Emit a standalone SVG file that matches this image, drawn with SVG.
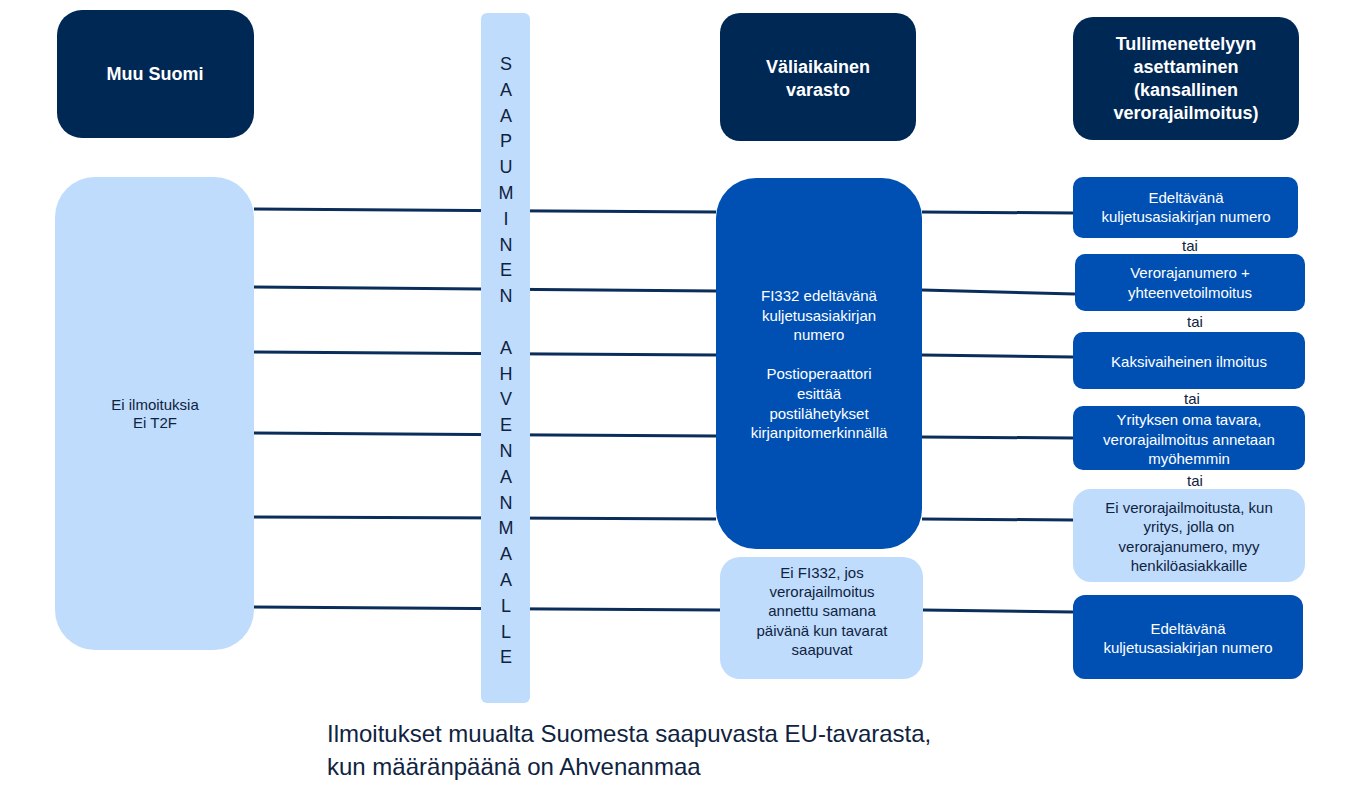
<svg xmlns="http://www.w3.org/2000/svg" width="1345" height="787" viewBox="0 0 1345 787">
<style>
text{font-family:"Liberation Sans",Arial,sans-serif}
.dk{fill:#002855}.bl{fill:#0050b4}.lt{fill:#bfdcfd}
.h{fill:#fff;font-size:18px;font-weight:bold;text-anchor:middle}
.w{fill:#fff;font-size:15px;text-anchor:middle}
.n{fill:#0f2340;font-size:15px;text-anchor:middle}
.v{fill:#0f2340;font-size:18px;text-anchor:middle}
.c line{stroke:#0b2d5a;stroke-width:3}
</style>
<rect width="1345" height="787" fill="#fff"/>
<g class="c" id="connectors">
<line x1="254" y1="209" x2="716" y2="212"/>
<line x1="254" y1="287" x2="716" y2="291"/>
<line x1="254" y1="352" x2="716" y2="355"/>
<line x1="254" y1="433" x2="716" y2="436"/>
<line x1="254" y1="517" x2="716" y2="519"/>
<line x1="254" y1="607" x2="720" y2="610"/>
<line x1="922" y1="212" x2="1073" y2="213"/>
<line x1="922" y1="290" x2="1075" y2="294"/>
<line x1="922" y1="355" x2="1073" y2="357"/>
<line x1="922" y1="437" x2="1073" y2="438"/>
<line x1="922" y1="519" x2="1073" y2="520"/>
<line x1="923" y1="610" x2="1073" y2="612"/>
</g>
<g id="muu"><rect class="dk" x="57" y="10" width="197" height="128" rx="25"/><text class="h" x="155" y="80">Muu Suomi</text></g>
<g id="left"><rect class="lt" x="55" y="177" width="199" height="473" rx="40"/><text class="n" x="155" y="410">Ei ilmoituksia</text><text class="n" x="155" y="428">Ei T2F</text></g>
<g id="bar"><rect class="lt" x="481" y="13" width="49" height="690" rx="6"/>
<text class="v"><tspan x="506" y="70">S</tspan><tspan x="506" y="96">A</tspan><tspan x="506" y="122">A</tspan><tspan x="506" y="147">P</tspan><tspan x="506" y="173">U</tspan><tspan x="506" y="199">M</tspan><tspan x="506" y="225">I</tspan><tspan x="506" y="251">N</tspan><tspan x="506" y="276">E</tspan><tspan x="506" y="302">N</tspan><tspan x="506" y="354">A</tspan><tspan x="506" y="380">H</tspan><tspan x="506" y="405">V</tspan><tspan x="506" y="431">E</tspan><tspan x="506" y="457">N</tspan><tspan x="506" y="483">A</tspan><tspan x="506" y="509">N</tspan><tspan x="506" y="534">M</tspan><tspan x="506" y="560">A</tspan><tspan x="506" y="586">A</tspan><tspan x="506" y="612">L</tspan><tspan x="506" y="638">L</tspan><tspan x="506" y="663">E</tspan></text></g>
<g id="vali"><rect class="dk" x="720" y="13" width="196" height="128" rx="20"/><text class="h" x="818" y="73">Väliaikainen</text><text class="h" x="818" y="96">varasto</text></g>
<g id="tulli"><rect class="dk" x="1073" y="17" width="226" height="123" rx="20"/><text class="h"><tspan x="1186" y="50">Tullimenettelyyn</tspan><tspan x="1186" y="73">asettaminen</tspan><tspan x="1186" y="96">(kansallinen</tspan><tspan x="1186" y="119">verorajailmoitus)</tspan></text></g>
<g id="fi332"><rect class="bl" x="716" y="178" width="206" height="371" rx="40"/><text class="w"><tspan x="819" y="301">FI332 edeltävänä</tspan><tspan x="819" y="321">kuljetusasiakirjan</tspan><tspan x="819" y="340">numero</tspan><tspan x="819" y="379">Postioperaattori</tspan><tspan x="819" y="399">esittää</tspan><tspan x="819" y="419">postilähetykset</tspan><tspan x="819" y="438">kirjanpitomerkinnällä</tspan></text></g>
<g id="eifi"><rect class="lt" x="720" y="557" width="203" height="122" rx="20"/><text class="n"><tspan x="822" y="578">Ei FI332, jos</tspan><tspan x="822" y="597">verorajailmoitus</tspan><tspan x="822" y="616">annettu samana</tspan><tspan x="822" y="636">päivänä kun tavarat</tspan><tspan x="822" y="655">saapuvat</tspan></text></g>
<g id="r1"><rect class="bl" x="1073" y="177" width="225" height="61" rx="10"/><text class="w"><tspan x="1186" y="203">Edeltävänä</tspan><tspan x="1186" y="222">kuljetusasiakirjan numero</tspan></text></g>
<g id="r2"><rect class="bl" x="1075" y="254" width="230" height="57" rx="10"/><text class="w"><tspan x="1190" y="278">Verorajanumero +</tspan><tspan x="1190" y="298">yhteenvetoilmoitus</tspan></text></g>
<g id="r3"><rect class="bl" x="1073" y="332" width="232" height="57" rx="10"/><text class="w" x="1189" y="367">Kaksivaiheinen ilmoitus</text></g>
<g id="r4"><rect class="bl" x="1073" y="406" width="232" height="64" rx="10"/><text class="w"><tspan x="1189" y="425">Yrityksen oma tavara,</tspan><tspan x="1189" y="445">verorajailmoitus annetaan</tspan><tspan x="1189" y="464">myöhemmin</tspan></text></g>
<g id="r5"><rect class="lt" x="1073" y="489" width="232" height="93" rx="18"/><text class="n"><tspan x="1189" y="513">Ei verorajailmoitusta, kun</tspan><tspan x="1189" y="532">yritys, jolla on</tspan><tspan x="1189" y="552">verorajanumero, myy</tspan><tspan x="1189" y="571">henkilöasiakkaille</tspan></text></g>
<g id="r6"><rect class="bl" x="1073" y="595" width="230" height="84" rx="12"/><text class="w"><tspan x="1188" y="634">Edeltävänä</tspan><tspan x="1188" y="653">kuljetusasiakirjan numero</tspan></text></g>
<g id="tai" class="n"><text class="n" x="1190" y="251">tai</text><text class="n" x="1195" y="327">tai</text><text class="n" x="1192" y="404">tai</text><text class="n" x="1195" y="486">tai</text></g>
<g id="title"><text x="327" y="742" fill="#0f2340" font-size="24">Ilmoitukset muualta Suomesta saapuvasta EU-tavarasta,</text><text x="327" y="775" fill="#0f2340" font-size="24">kun määränpäänä on Ahvenanmaa</text></g>
</svg>
